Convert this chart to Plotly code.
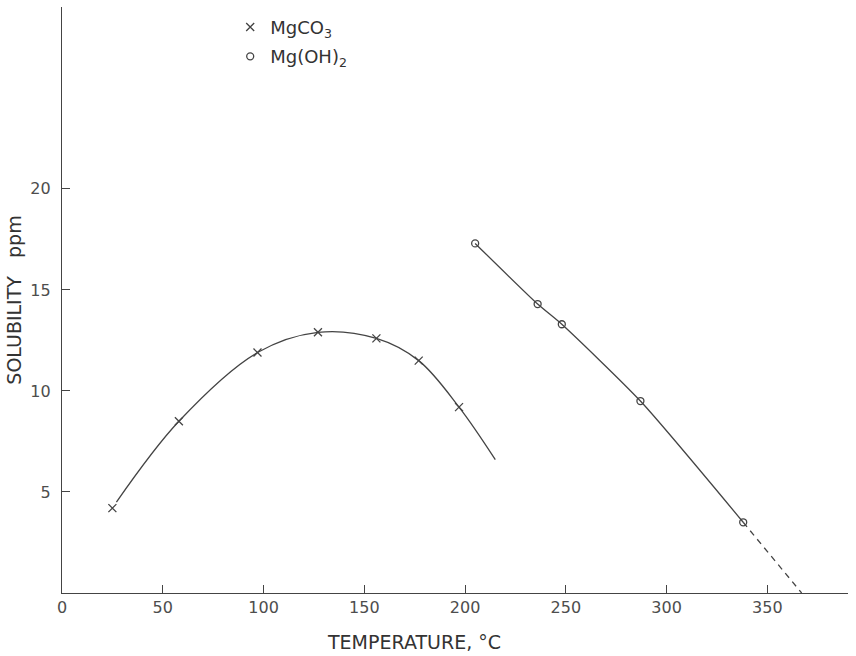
import plotly.graph_objects as go

# Data
mgco3_temp = [25, 58, 97, 127, 156, 177, 197]
mgco3_sol = [4.2, 8.5, 11.9, 12.9, 12.6, 11.5, 9.2]
# smooth curve drawn through the MgCO3 points (extends past last point)
mgco3_curve_temp = [27, 58, 97, 127, 156, 177, 197, 215]
mgco3_curve_sol = [4.5, 8.5, 11.9, 12.9, 12.6, 11.5, 9.2, 6.6]

mgoh2_temp = [205, 236, 248, 287, 338]
mgoh2_sol = [17.3, 14.3, 13.3, 9.5, 3.5]
# dashed extrapolation to zero solubility
mgoh2_extrap_temp = [338, 367]
mgoh2_extrap_sol = [3.5, 0]

x_ticks = [0, 50, 100, 150, 200, 250, 300, 350]
y_ticks = [5, 10, 15, 20]

ink = "#444444"
text_col = "#4d4d4d"
font = "DejaVu Sans, Liberation Sans, sans-serif"

fig = go.Figure()

fig.add_trace(go.Scatter(
    x=mgco3_curve_temp, y=mgco3_curve_sol, mode="lines",
    line=dict(color=ink, width=1.3, shape="spline", smoothing=1.0),
    showlegend=False, hoverinfo="skip"))
fig.add_trace(go.Scatter(
    x=mgoh2_temp, y=mgoh2_sol, mode="lines",
    line=dict(color=ink, width=1.3, shape="spline", smoothing=0.6),
    showlegend=False, hoverinfo="skip"))
fig.add_trace(go.Scatter(
    x=mgoh2_extrap_temp, y=mgoh2_extrap_sol, mode="lines",
    line=dict(color=ink, width=1.3, dash="6px,5px"),
    showlegend=False, hoverinfo="skip"))

fig.add_trace(go.Scatter(
    x=mgco3_temp, y=mgco3_sol, mode="markers", name="MgCO<sub>3</sub>",
    legendgroup="a",
    marker=dict(symbol="x-thin", size=8, color=ink,
                line=dict(color=ink, width=1.3))))
fig.add_trace(go.Scatter(
    x=mgoh2_temp, y=mgoh2_sol, mode="markers", name="Mg(OH)<sub>2</sub>",
    legendgroup="b",
    marker=dict(symbol="circle-open", size=7, color=ink,
                line=dict(color=ink, width=1.3))))

fig.update_layout(
    width=856, height=656,
    margin=dict(l=62, r=8, t=7, b=63, autoexpand=False),
    paper_bgcolor="white", plot_bgcolor="white",
    font=dict(family=font, size=16, color=text_col),
    showlegend=True,
    legend=dict(x=0.214, y=0.997, xanchor="left", yanchor="top",
                bgcolor="rgba(0,0,0,0)", font=dict(size=18, color="#333"),
                itemwidth=30, traceorder="grouped", tracegroupgap=3),
    xaxis=dict(range=[0, 390], tickvals=x_ticks, ticktext=[str(v) for v in x_ticks],
               ticks="inside", ticklen=8, tickcolor=ink, tickwidth=1.2,
               showline=True, linecolor=ink, linewidth=1.4, showgrid=False,
               zeroline=False, automargin=False,
               tickfont=dict(size=16, color=text_col)),
    yaxis=dict(range=[0, 29], tickvals=y_ticks,
               ticks="inside", ticklen=8, tickcolor=ink, tickwidth=1.2,
               ticklabelstandoff=7,
               showline=True, linecolor=ink, linewidth=1.4, showgrid=False,
               zeroline=False, automargin=False,
               tickfont=dict(size=16, color=text_col),
               title=dict(text="SOLUBILITY   ppm", font=dict(size=19, color="#333"),
                          standoff=3)),
    annotations=[dict(text="TEMPERATURE, °C", xref="paper", yref="paper",
                      x=0.448, y=-0.084, xanchor="center", yanchor="middle",
                      showarrow=False, font=dict(size=19, color="#333"))],
)

fig.write_html("out.html", config={"displayModeBar": False},
               post_script="document.body.style.margin='0';document.body.style.overflow='hidden';")
